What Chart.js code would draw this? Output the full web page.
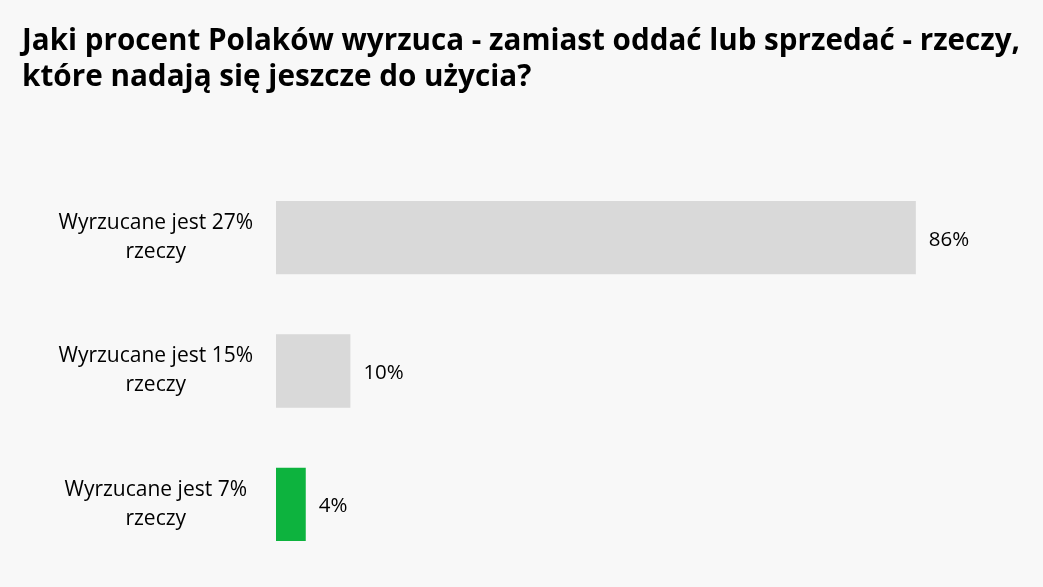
<!DOCTYPE html>
<html><head><meta charset="utf-8">
<script src="https://cdn.jsdelivr.net/npm/chart.js@4"></script>
<style>
html,body{margin:0;padding:0;background:#f8f8f8;}
#wrap{width:1043px;height:587px;position:relative;}
</style></head>
<body><div id="wrap"><canvas id="c"></canvas></div>
<script>
const titleLines = ["Jaki procent Polaków wyrzuca - zamiast oddać lub sprzedać - rzeczy,", "które nadają się jeszcze do użycia?"];
const categories = [["Wyrzucane jest 27%", "rzeczy"], ["Wyrzucane jest 15%", "rzeczy"], ["Wyrzucane jest 7%", "rzeczy"]];
const values = [86, 10, 4];
const barColors = ["#d9d9d9", "#d9d9d9", "#0db33e"];
const valueLabels = ["86%", "10%", "4%"];

const FONT = "'Open Sans', 'Noto Sans', sans-serif";

const valuePlugin = {
  id: 'valueLabels',
  afterDatasetsDraw(chart) {
    const ctx = chart.ctx;
    const meta = chart.getDatasetMeta(0);
    ctx.save();
    ctx.font = "20.5px " + FONT;
    ctx.fillStyle = "#000";
    ctx.textBaseline = "middle";
    ctx.textAlign = "left";
    meta.data.forEach((bar, i) => {
      ctx.fillText(valueLabels[i], bar.x + 13, bar.y + 2);
    });
    ctx.restore();
  }
};

new Chart(document.getElementById('c'), {
  type: 'bar',
  data: {
    labels: categories,
    datasets: [{
      data: values,
      backgroundColor: barColors,
      borderWidth: 0,
      categoryPercentage: 0.55,
      barPercentage: 1.0
    }]
  },
  options: {
    indexAxis: 'y',
    responsive: true,
    maintainAspectRatio: false,
    animation: false,
    devicePixelRatio: 1,
    layout: { padding: { left: 22, right: 23, top: 22, bottom: 16 } },
    plugins: {
      legend: { display: false },
      tooltip: { enabled: false },
      title: {
        display: true,
        text: titleLines,
        align: 'start',
        color: '#000',
        font: { family: FONT, size: 29.7, weight: 'bold', lineHeight: '36px' },
        padding: { top: 2, bottom: 75 }
      }
    },
    scales: {
      x: {
        min: 0, max: 100,
        display: false,
        grid: { display: false }
      },
      y: {
        grid: { display: false },
        border: { display: false },
        afterFit(scale) {
          scale.width = 254;
          scale.paddingTop = 0;
          scale.paddingBottom = 0;
        },
        ticks: {
          color: '#000',
          font: { family: FONT, size: 21, lineHeight: '29px' },
          crossAlign: 'center',
          padding: 15
        }
      }
    }
  },
  plugins: [valuePlugin]
});
</script></body></html>
